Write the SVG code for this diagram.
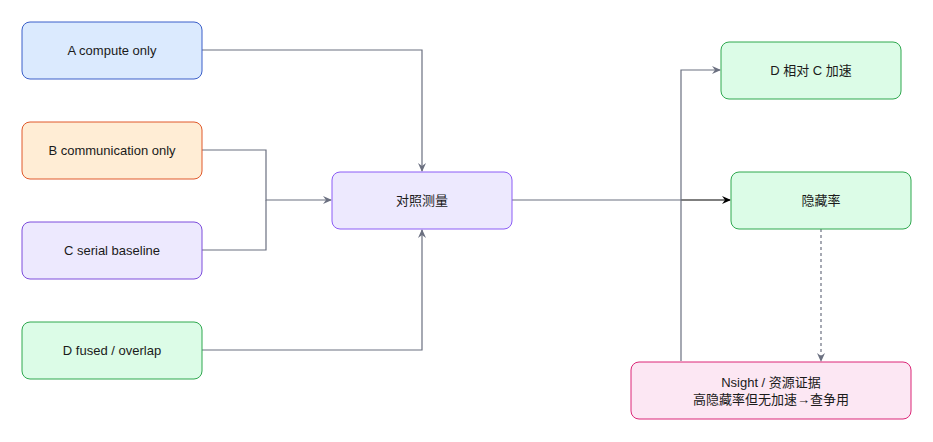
<svg xmlns="http://www.w3.org/2000/svg" width="933" height="442" viewBox="0 0 933 442">
<style>
text{font-family:"Liberation Sans","Noto Sans CJK SC",sans-serif;font-size:13px;fill:#1a1a1a;text-anchor:middle;dominant-baseline:central}
.e{fill:none;stroke:#6b7080;stroke-width:1.2}
</style>
<defs>
<marker id="a" markerWidth="10" markerHeight="10" refX="8" refY="5" orient="auto" markerUnits="userSpaceOnUse"><path d="M0,1 L9,5 L0,9 L3,5Z" fill="#6b7080"/></marker>
<marker id="b" markerWidth="10" markerHeight="10" refX="8" refY="5" orient="auto" markerUnits="userSpaceOnUse"><path d="M0,1 L9,5 L0,9 L3,5Z" fill="#000"/></marker>
</defs>
<g id="connectors">
<path class="e" d="M202,50H422V171" marker-end="url(#a)"/>
<path class="e" d="M202,150H266V200H331" marker-end="url(#a)"/>
<path class="e" d="M202,250H266V200"/>
<path class="e" d="M202,350H422V230" marker-end="url(#a)"/>
<path class="e" d="M512,200H681"/>
<path d="M681,200H730" fill="none" stroke="#000" stroke-width="1.2" marker-end="url(#b)"/>
<path class="e" d="M681,361V70H720" marker-end="url(#a)"/>
<path class="e" d="M821,229V361" stroke-dasharray="3,3" marker-end="url(#a)"/>
</g>
<g id="A"><rect x="22" y="22" width="180" height="57" rx="8" fill="#dbeafe" stroke="#3b5fc9"/><text x="112" y="50.5">A compute only</text></g>
<g id="B"><rect x="22" y="122" width="180" height="57" rx="8" fill="#ffedd5" stroke="#e0592a"/><text x="112" y="150.5">B communication only</text></g>
<g id="C"><rect x="22" y="222" width="180" height="57" rx="8" fill="#ede9fe" stroke="#7c4ddc"/><text x="112" y="250.5">C serial baseline</text></g>
<g id="D"><rect x="22" y="322" width="180" height="57" rx="8" fill="#dcfce7" stroke="#2fa84f"/><text x="112" y="350.5">D fused / overlap</text></g>
<g id="M"><rect x="332" y="172" width="180" height="57" rx="8" fill="#ede9fe" stroke="#8b5cf6"/><text x="422" y="200.5">对照测量</text></g>
<g id="S"><rect x="721" y="42" width="180" height="57" rx="8" fill="#dcfce7" stroke="#2fa84f"/><text x="811" y="70.5">D 相对 C 加速</text></g>
<g id="H"><rect x="731" y="172" width="180" height="57" rx="8" fill="#dcfce7" stroke="#2fa84f"/><text x="821" y="200.5">隐藏率</text></g>
<g id="N"><rect x="631" y="362" width="280" height="57" rx="8" fill="#fce7f3" stroke="#db2777"/><text x="771" y="382">Nsight / 资源证据</text><text x="771" y="399">高隐藏率但无加速→查争用</text></g>
</svg>
